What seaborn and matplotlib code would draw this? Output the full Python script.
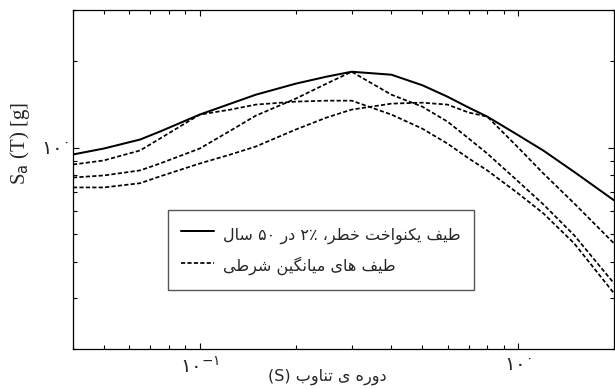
import re
import matplotlib
matplotlib.use("Agg")
import matplotlib.pyplot as plt
from matplotlib import font_manager
from matplotlib.ft2font import FT2Font
from matplotlib.ticker import LogLocator, NullFormatter, FixedLocator, FixedFormatter
from matplotlib.lines import Line2D
import pandas as pd
import seaborn as sns

# ---- data: spectral acceleration Sa(T) [g] vs period T [s] ----
period = [0.04, 0.05, 0.065, 0.075, 0.1, 0.125, 0.15, 0.2, 0.25, 0.3, 0.4, 0.5, 0.6,
          0.7, 0.8, 1.0, 1.2, 1.5, 2.0]
uhs = [0.946, 0.992, 1.066, 1.136, 1.301, 1.420, 1.525, 1.665, 1.761, 1.832, 1.789, 1.645,
       1.501, 1.375, 1.280, 1.104, 0.976, 0.823, 0.656]
cms_t01 = [0.873, 0.902, 0.977, 1.074, 1.301, 1.354, 1.409, 1.443, 1.454, 1.454, 1.301,
           1.163, 1.032, 0.916, 0.833, 0.693, 0.591, 0.465, 0.312]
cms_t03 = [0.787, 0.800, 0.833, 0.880, 0.992, 1.145, 1.290, 1.477, 1.665, 1.832, 1.525,
           1.386, 1.230, 1.074, 0.953, 0.763, 0.635, 0.496, 0.338]
cms_t08 = [0.727, 0.727, 0.752, 0.794, 0.880, 0.946, 1.008, 1.154, 1.270, 1.354, 1.420,
           1.431, 1.409, 1.322, 1.280, 1.000, 0.813, 0.640, 0.465]

x_ticks = [0.1, 1.0]
x_tick_labels = [r"$۱۰^{-۱}$", r"$۱۰^{۰}$"]
y_ticks = [1.0]
y_tick_labels = [r"$۱۰^{۰}$"]

label_uhs = "طیف یکنواخت خطر، ۲٪ در ۵۰ سال"
label_cms = "طیف های میانگین شرطی"
x_label = "دوره ی تناوب (S)"
y_label = r"S$_{\rm a}$ (T) [g]"

# ---- minimal Persian shaping + visual reordering ----
ARABIC_FONT = "DejaVu Sans"
_font_path = font_manager.findfont(ARABIC_FONT)
_cmap = FT2Font(_font_path).get_charmap()

# isolated, final, initial, medial
FORMS = {
    "ا": (0xFE8D, 0xFE8E, None, None),
    "ب": (0xFE8F, 0xFE90, 0xFE91, 0xFE92),
    "ت": (0xFE95, 0xFE96, 0xFE97, 0xFE98),
    "خ": (0xFEA5, 0xFEA6, 0xFEA7, 0xFEA8),
    "د": (0xFEA9, 0xFEAA, None, None),
    "ر": (0xFEAD, 0xFEAE, None, None),
    "س": (0xFEB1, 0xFEB2, 0xFEB3, 0xFEB4),
    "ش": (0xFEB5, 0xFEB6, 0xFEB7, 0xFEB8),
    "ط": (0xFEC1, 0xFEC2, 0xFEC3, 0xFEC4),
    "ف": (0xFED1, 0xFED2, 0xFED3, 0xFED4),
    "ل": (0xFEDD, 0xFEDE, 0xFEDF, 0xFEE0),
    "م": (0xFEE1, 0xFEE2, 0xFEE3, 0xFEE4),
    "ن": (0xFEE5, 0xFEE6, 0xFEE7, 0xFEE8),
    "ه": (0xFEE9, 0xFEEA, 0xFEEB, 0xFEEC),
    "و": (0xFEED, 0xFEEE, None, None),
    "ی": (0xFBFC, 0xFBFD, 0xFBFE, 0xFBFF),
    "ک": (0xFB8E, 0xFB8F, 0xFB90, 0xFB91),
    "گ": (0xFB92, 0xFB93, 0xFB94, 0xFB95),
}
FALLBACK = {
    "ی": (0xFEEF, 0xFEF0, 0xFEF3, 0xFEF4),
    "ک": (0xFED9, 0xFEDA, 0xFEDB, 0xFEDC),
}
for ch, fb in FALLBACK.items():
    if not all(cp in _cmap for cp in FORMS[ch]):
        FORMS[ch] = fb


def _shape(text):
    out = []
    for i, c in enumerate(text):
        if c not in FORMS:
            out.append(c)
            continue
        prev = text[i - 1] if i > 0 else None
        nxt = text[i + 1] if i + 1 < len(text) else None
        iso, fin, ini, med = FORMS[c]
        jp = prev in FORMS and FORMS[prev][2] is not None
        jn = nxt in FORMS and ini is not None
        if jp and jn:
            cp = med
        elif jp:
            cp = fin
        elif jn:
            cp = ini
        else:
            cp = iso
        out.append(chr(cp))
    return "".join(out)


_MIRROR = str.maketrans("()[]", ")(][")


def rtl(text):
    shaped = _shape(text)
    tokens = re.findall(r"[0-9۰-۹A-Za-z٪%]+|[^0-9۰-۹A-Za-z٪%]+", shaped)
    vis = []
    for tok in reversed(tokens):
        if re.match(r"[0-9۰-۹A-Za-z٪%]", tok):
            vis.append(tok)
        else:
            vis.append(tok[::-1].translate(_MIRROR))
    return "".join(vis)


# ---- style ----
sns.set_style("ticks", {"xtick.direction": "in", "ytick.direction": "in"})
plt.rcParams["font.family"] = [ARABIC_FONT]
plt.rcParams["mathtext.fontset"] = "custom"
plt.rcParams["mathtext.rm"] = ARABIC_FONT
plt.rcParams["mathtext.it"] = ARABIC_FONT
plt.rcParams["axes.linewidth"] = 0.9
plt.rcParams["axes.edgecolor"] = "black"

fig = plt.figure(figsize=(6.15, 3.89), dpi=100)
ax = fig.add_axes([73 / 615, 1 - 349 / 389, (614 - 73) / 615, (349 - 10) / 389])

DASH = (0, (2.4, 1.3))
solid_kw = dict(color="black", linewidth=1.45, estimator=None, sort=True, legend=False)
dash_kw = dict(color="black", linewidth=1.25, linestyle=DASH,
               estimator=None, sort=True, legend=False)

sns.lineplot(data=pd.DataFrame({"T": period, "Sa": uhs}), x="T", y="Sa", ax=ax, **solid_kw)
for series in (cms_t01, cms_t03, cms_t08):
    sns.lineplot(data=pd.DataFrame({"T": period, "Sa": series}), x="T", y="Sa", ax=ax, **dash_kw)

ax.set_xscale("log")
ax.set_yscale("log")
ax.set_xlim(0.04, 2.0)
ax.set_ylim(0.2, 3.0)

ax.xaxis.set_major_locator(FixedLocator(x_ticks))
ax.xaxis.set_major_formatter(FixedFormatter(x_tick_labels))
ax.yaxis.set_major_locator(FixedLocator(y_ticks))
ax.yaxis.set_major_formatter(FixedFormatter(y_tick_labels))
ax.xaxis.set_minor_locator(LogLocator(base=10, subs=range(2, 10), numticks=20))
ax.yaxis.set_minor_locator(LogLocator(base=10, subs=range(2, 10), numticks=20))
ax.xaxis.set_minor_formatter(NullFormatter())
ax.yaxis.set_minor_formatter(NullFormatter())

ax.tick_params(which="both", direction="in", top=True, right=True, color="black", width=0.8)
ax.tick_params(which="major", length=4.0, labelsize=14)
ax.tick_params(axis="x", which="major", pad=5)
ax.tick_params(axis="y", which="major", pad=3)
ax.tick_params(which="minor", length=2.6)

ax.set_xlabel(rtl(x_label), fontsize=11.5)
ax.xaxis.set_label_coords((327 - 73) / 541, -0.058)
ax.set_ylabel(y_label, fontsize=15, family="Liberation Serif")
ax.yaxis.set_label_coords(-0.076, (349 - 143) / 339)

handles = [Line2D([], [], color="black", linewidth=1.45),
           Line2D([], [], color="black", linewidth=1.25, linestyle=DASH)]
leg = ax.legend(handles, [rtl(label_uhs), rtl(label_cms)],
                loc="lower left", bbox_to_anchor=((168 - 73) / 541, (349 - 290) / 339),
                borderaxespad=0, fontsize=11.5, frameon=True, fancybox=False,
                edgecolor="#555555", framealpha=1, handlelength=2.1, handleheight=1.8,
                labelspacing=0.55, borderpad=0.8, handletextpad=0.55)
leg.get_frame().set_linewidth(1.0)

fig.savefig("out.png", dpi=100)
